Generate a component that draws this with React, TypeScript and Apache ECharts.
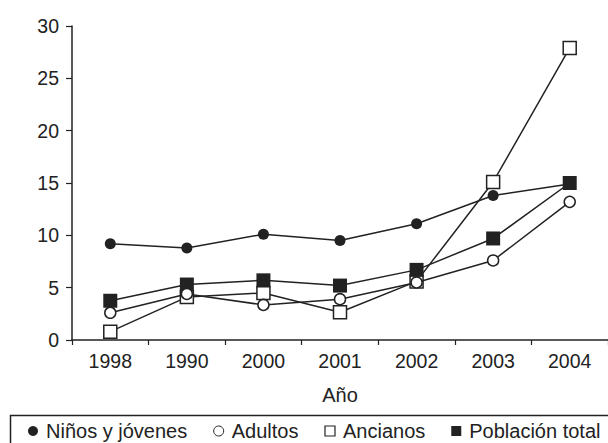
import React, { useEffect, useRef } from "react";
import * as echarts from "echarts";

const categories = ["1998", "1990", "2000", "2001", "2002", "2003", "2004"];
const ninos = [9.2, 8.8, 10.1, 9.5, 11.1, 13.8, 14.9];
const adultos = [2.6, 4.4, 3.35, 3.9, 5.5, 7.6, 13.2];
const ancianos = [0.8, 4.1, 4.5, 2.65, 5.6, 15.1, 27.9];
const total = [3.75, 5.3, 5.7, 5.2, 6.7, 9.7, 15.0];
const seriesNames = ["Niños y jóvenes", "Adultos", "Ancianos", "Población total"];
const yTicks = [0, 5, 10, 15, 20, 25, 30];

const INK = "#222222";
const FONT = "'Liberation Sans', Arial, Helvetica, sans-serif";

export default function App() {
  const ref = useRef<HTMLDivElement>(null);
  useEffect(() => {
    document.body.style.margin = "0";
    if (!ref.current) return;
    const chart = echarts.init(ref.current, undefined, { renderer: "svg" });
    const lineStyle = { color: INK, width: 1.5 };
    chart.setOption({
      animation: false,
      textStyle: { fontFamily: FONT, color: INK },
      grid: { left: 72, right: 0, top: 26, bottom: 103, containLabel: false },
      xAxis: {
        type: "category",
        data: categories,
        boundaryGap: true,
        name: "Año",
        nameLocation: "middle",
        nameGap: 45,
        nameTextStyle: { fontSize: 20, color: INK, fontFamily: FONT },
        axisLine: { lineStyle: { color: INK, width: 1.5 } },
        axisTick: { show: true, length: 5, lineStyle: { color: INK, width: 1.2 } },
        axisLabel: { fontSize: 19.5, color: INK, margin: 11, fontFamily: FONT },
        splitLine: { show: false },
      },
      yAxis: {
        type: "value",
        min: yTicks[0],
        max: yTicks[yTicks.length - 1],
        interval: 5,
        axisLine: { show: true, lineStyle: { color: INK, width: 1.5 } },
        axisTick: { show: true, length: 6, lineStyle: { color: INK, width: 1.2 } },
        axisLabel: { fontSize: 19.5, color: INK, margin: 13, fontFamily: FONT },
        splitLine: { show: false },
      },
      legend: {
        left: 28,
        top: 421,
        itemGap: 26,
        itemWidth: 10,
        itemHeight: 10,
        padding: 0,
        textStyle: { fontSize: 20, color: INK, fontFamily: FONT, padding: [0, 0, 0, 3] },
        data: [
          { name: seriesNames[0], icon: "circle", itemStyle: { color: INK, borderWidth: 0 } },
          { name: seriesNames[1], icon: "circle", itemStyle: { color: "#fff", borderColor: INK, borderWidth: 1 } },
          { name: seriesNames[2], icon: "rect", itemStyle: { color: "#fff", borderColor: INK, borderWidth: 1.2 } },
          { name: seriesNames[3], icon: "rect", itemStyle: { color: INK, borderWidth: 0 } },
        ],
      },
      graphic: [
        {
          type: "rect",
          left: 8,
          top: 413,
          shape: { width: 640, height: 60 },
          style: { fill: "none", stroke: INK, lineWidth: 1.5 },
          silent: true,
        },
      ],
      series: [
        {
          name: seriesNames[2],
          type: "line",
          data: ancianos,
          z: 2,
          symbol: "rect",
          symbolSize: 13,
          lineStyle,
          itemStyle: { color: "#fff", borderColor: INK, borderWidth: 1.5 },
        },
        {
          name: seriesNames[0],
          type: "line",
          data: ninos,
          z: 3,
          symbol: "circle",
          symbolSize: 11,
          lineStyle,
          itemStyle: { color: INK, borderColor: INK, borderWidth: 0 },
        },
        {
          name: seriesNames[3],
          type: "line",
          data: total,
          z: 4,
          symbol: "rect",
          symbolSize: 14,
          lineStyle,
          itemStyle: { color: INK, borderColor: INK, borderWidth: 0 },
        },
        {
          name: seriesNames[1],
          type: "line",
          data: adultos,
          z: 5,
          symbol: "circle",
          symbolSize: 11,
          lineStyle,
          itemStyle: { color: "#fff", borderColor: INK, borderWidth: 1.5 },
        },
      ],
    });
    return () => chart.dispose();
  }, []);
  return <div ref={ref} style={{ width: 608, height: 443 }} />;
}
